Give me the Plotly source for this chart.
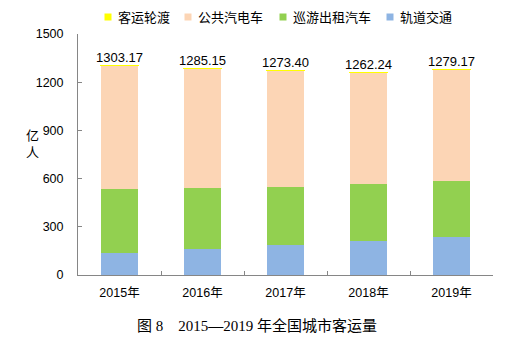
import plotly.graph_objects as go

years = ["2015年", "2016年", "2017年", "2018年", "2019年"]
rail = [140.01, 161.51, 184.30, 212.77, 238.78]
taxi = [396.74, 377.35, 365.40, 351.67, 347.89]
bus = [765.40, 745.35, 722.87, 697.00, 691.76]
ferry = [1.02, 0.94, 0.83, 0.80, 0.74]
totals = [1303.17, 1285.15, 1273.40, 1262.24, 1279.17]
total_labels = ["1303.17", "1285.15", "1273.40", "1262.24", "1279.17"]
yticks = [0, 300, 600, 900, 1200, 1500]

series = [
    ("轨道交通", rail, "#8EB4E3"),
    ("巡游出租汽车", taxi, "#92D050"),
    ("公共汽电车", bus, "#FCD5B5"),
    ("客运轮渡", ferry, "#FFFF00"),
]
# legend entries, left to right, with pixel x of their square marker
legend_items = [("客运轮渡", "#FFFF00", 108), ("公共汽电车", "#FCD5B5", 188),
                ("巡游出租汽车", "#92D050", 283), ("轨道交通", "#8EB4E3", 390)]

FONT = "Arial, 'Liberation Sans', 'Noto Sans CJK SC', sans-serif"
L, R, T, B, W, H = 78, 26, 34, 79, 519, 354
PW, PH = W - L - R, H - T - B


def px_x(px):
    return (px - L) / PW


def px_y(py):
    return (H - B - py) / PH


fig = go.Figure()
for name, vals, col in series:
    fig.add_trace(go.Bar(
        x=years, y=vals, name=name, showlegend=False,
        marker=dict(color=col, line=dict(color=col, width=1.2 if name == "客运轮渡" else 0)),
        width=0.45,
    ))

fig.add_trace(go.Scatter(
    x=years, y=totals, mode="text", text=total_labels, textposition="top center",
    textfont=dict(size=13, color="#000000", family=FONT), showlegend=False,
    cliponaxis=False,
))

annotations = [
    dict(text="亿<br>人", x=px_x(32), y=px_y(144), xref="paper", yref="paper",
         xanchor="center", showarrow=False, font=dict(size=13, family=FONT), align="center"),
    dict(text="图 8 &nbsp;&nbsp; 2015<b>—</b>2019 年全国城市客运量", x=px_x(257), y=px_y(336),
         xref="paper", yref="paper", showarrow=False,
         font=dict(size=15, family="'Liberation Serif', 'Times New Roman', 'Noto Sans CJK SC', serif")),
]
shapes = []
for name, col, mx in legend_items:
    shapes.append(dict(type="rect", xref="paper", yref="paper",
                       x0=px_x(mx - 3.5), x1=px_x(mx + 3.5), y0=px_y(17 + 3.5), y1=px_y(17 - 3.5),
                       fillcolor=col, line=dict(width=0)))
    annotations.append(dict(text=name, x=px_x(mx + 8), y=px_y(17), xref="paper", yref="paper",
                            xanchor="left", yanchor="middle", showarrow=False,
                            font=dict(size=13, family=FONT)))

fig.update_layout(
    width=W, height=H,
    margin=dict(l=L, r=R, t=T, b=B),
    barmode="stack",
    showlegend=False,
    plot_bgcolor="white", paper_bgcolor="white",
    font=dict(family=FONT, size=12, color="#000000"),
    xaxis=dict(showline=True, linecolor="#868686", linewidth=1, ticks="inside",
               tickson="boundaries", ticklen=4, tickcolor="#868686",
               tickfont=dict(size=12.5), showgrid=False, automargin=False,
               ticklabelstandoff=6),
    yaxis=dict(range=[0, 1500], tickvals=yticks, showline=True, linecolor="#868686",
               linewidth=1, ticks="inside", ticklen=4, tickcolor="#868686",
               tickfont=dict(size=12.5), showgrid=False, zeroline=False, automargin=False,
               ticklabelstandoff=11),
    annotations=annotations,
    shapes=shapes,
)

fig.write_html("out.html")
